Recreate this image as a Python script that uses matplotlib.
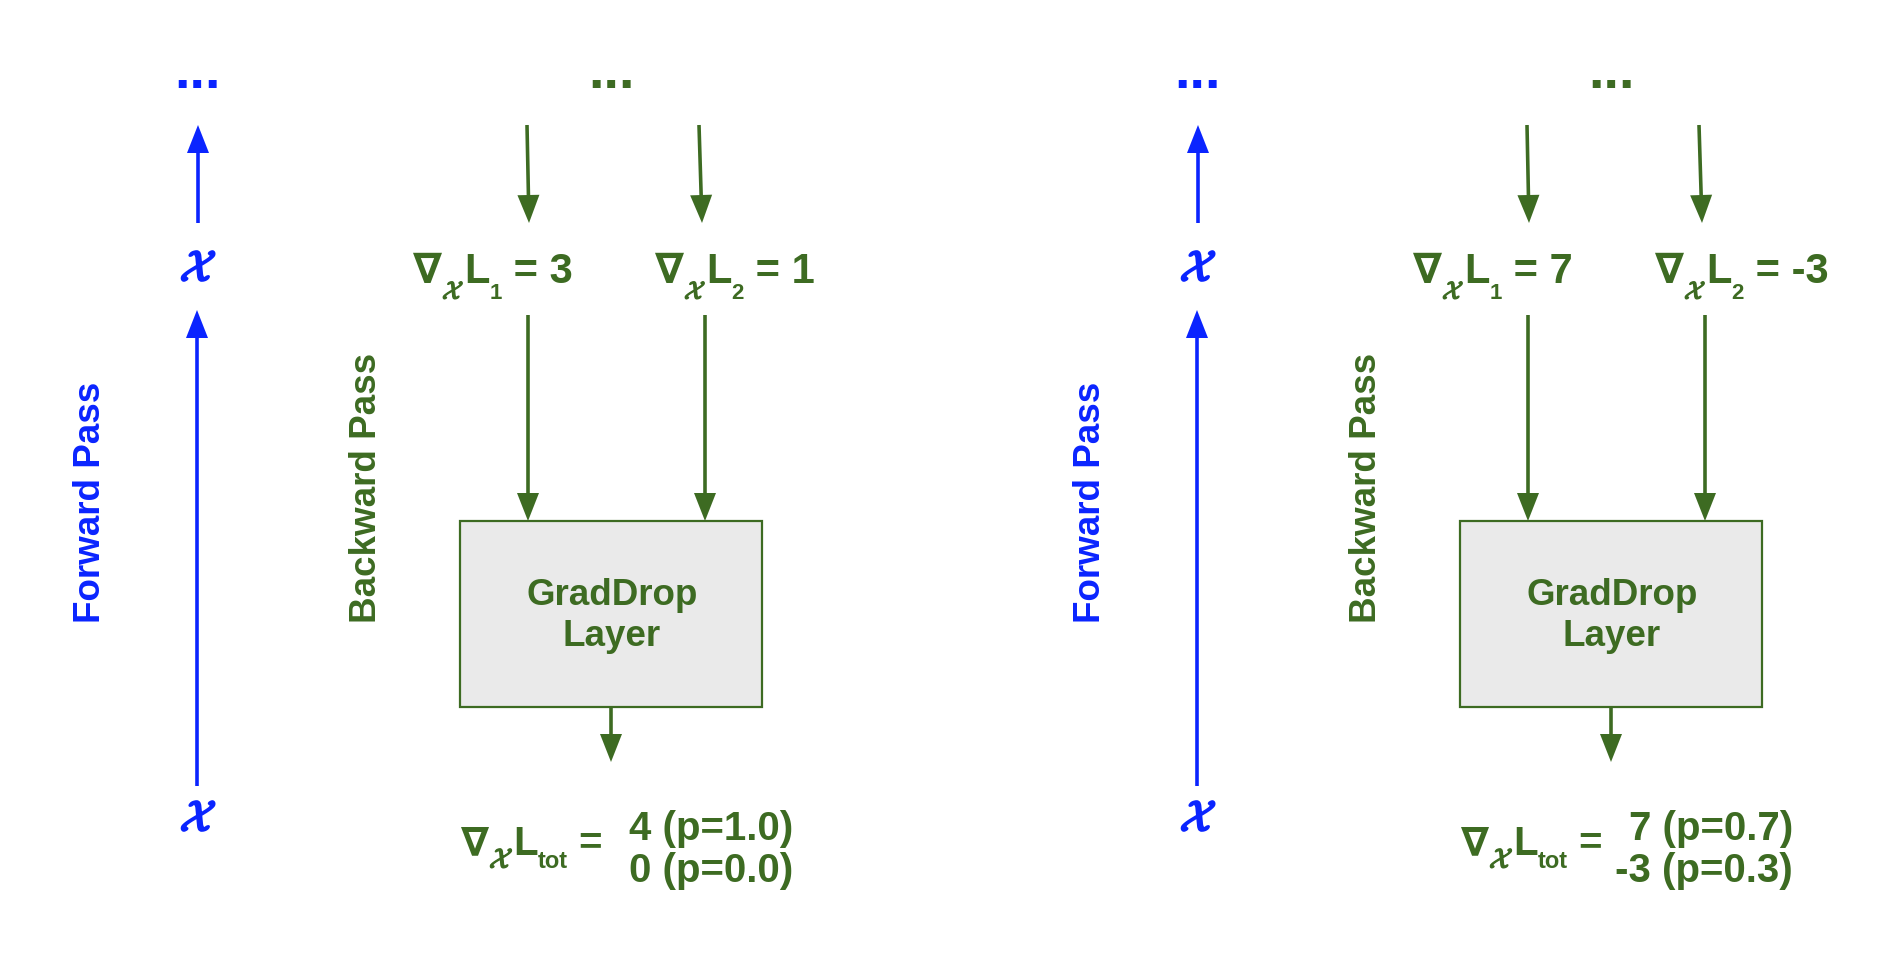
import matplotlib
matplotlib.use("Agg")
import matplotlib.pyplot as plt
import matplotlib.patheffects as pe
from matplotlib.patches import Rectangle

# data: two GradDrop examples side by side
panel_offsets = [0, 1000]
grad_L1 = [3, 7]
grad_L2 = [1, -3]
total_vals = [[4, 0], [7, -3]]
total_probs = [[1.0, 0.0], [0.7, 0.3]]

BLUE = "#0a24ff"
GREEN = "#3d6b22"
FS = 26.5
FS_LBL = 30
FS_TOT = 29

# fonts: Arial-like bold text, calligraphic x from computer modern
plt.rcParams["font.family"] = ["Liberation Sans", "DejaVu Sans"]
plt.rcParams["font.weight"] = "bold"
plt.rcParams["mathtext.fontset"] = "custom"
plt.rcParams["mathtext.rm"] = "Liberation Sans:bold"
plt.rcParams["mathtext.default"] = "rm"
plt.rcParams["mathtext.cal"] = "cmsy10"

fig = plt.figure(figsize=(19.03, 9.69), dpi=100)
ax = fig.add_axes([0, 0, 1, 1])
ax.set_xlim(0, 1903)
ax.set_ylim(969, 0)
ax.axis("off")
renderer = fig.canvas.get_renderer()

CAL_X = r"$\mathcal{X}$"


def arrow(x0, y0, x1, y1, color):
    ax.arrow(x0, y0, x1 - x0, y1 - y0, width=3.6, head_width=22, head_length=28,
             length_includes_head=True, color=color, lw=0)


def rich_text(x, y, pieces, color):
    # pieces: (string, fontsize, downward shift, stroke width)
    for s, size, dy, stroke in pieces:
        eff = [pe.withStroke(linewidth=stroke, foreground=color)] if stroke else None
        t = ax.text(x, y + dy, s, color=color, fontsize=size, ha="left",
                    va="baseline", path_effects=eff)
        x += t.get_window_extent(renderer=renderer).width


def grad_label(x, y, idx, value):
    rich_text(x, y, [("\u2207", FS_LBL, 0, 0),
                     (CAL_X, 18, 16, 1.0),
                     ("L", FS_LBL, 0, 0),
                     (str(idx), 16, 16, 0),
                     (f" = {value}", FS_LBL, 0, 0)], GREEN)


for i, dx in enumerate(panel_offsets):
    # forward pass (blue)
    ax.text(198 + dx, 74, "...", color=BLUE, fontsize=40, ha="center", va="center")
    arrow(198 + dx, 223, 198 + dx, 125, BLUE)
    ax.text(198 + dx, 270, CAL_X, color=BLUE, fontsize=31, ha="center", va="center",
            path_effects=[pe.withStroke(linewidth=1.6, foreground=BLUE)])
    arrow(197 + dx, 786, 197 + dx, 310, BLUE)
    ax.text(198 + dx, 820, CAL_X, color=BLUE, fontsize=31, ha="center", va="center",
            path_effects=[pe.withStroke(linewidth=1.6, foreground=BLUE)])
    ax.text(90 + dx, 502, "Forward Pass", color=BLUE, fontsize=FS, rotation=90,
            ha="center", va="center")

    # backward pass (green)
    ax.text(366 + dx, 488, "Backward Pass", color=GREEN, fontsize=FS, rotation=90,
            ha="center", va="center")
    ax.text(612 + dx, 74, "...", color=GREEN, fontsize=40, ha="center", va="center")
    arrow(527 + dx, 125, 529 + dx, 223, GREEN)
    arrow(699 + dx, 125, 702 + dx, 223, GREEN)

    grad_label(413 + dx, 283, 1, grad_L1[i])
    grad_label(655 + dx, 283, 2, grad_L2[i])

    arrow(528 + dx, 315, 528 + dx, 521, GREEN)
    arrow(705 + dx, 315, 705 + dx, 521, GREEN)

    ax.add_patch(Rectangle((460 + dx, 521), 302, 186, facecolor="#eaeaea",
                           edgecolor=GREEN, lw=1.6, zorder=2))
    ax.text(612 + dx, 616, "GradDrop\nLayer", color=GREEN, fontsize=FS,
            ha="center", va="center", linespacing=1.25, zorder=3)

    arrow(611 + dx, 707, 611 + dx, 762, GREEN)

    rich_text(461 + dx, 855, [("\u2207", FS_TOT, 0, 0),
                              (CAL_X, 20, 13, 1.0),
                              ("L", FS_TOT, 0, 0),
                              ("tot", 17, 13, 0),
                              (" =", FS_TOT, 0, 0)], GREEN)
    lines = [f"{v} (p={p:.1f})" for v, p in zip(total_vals[i], total_probs[i])]
    ax.text(793 + dx, 850, "\n".join(lines), color=GREEN, fontsize=FS_TOT,
            ha="right", va="center", multialignment="right", linespacing=1.12)

fig.savefig("out.png", dpi=100)
